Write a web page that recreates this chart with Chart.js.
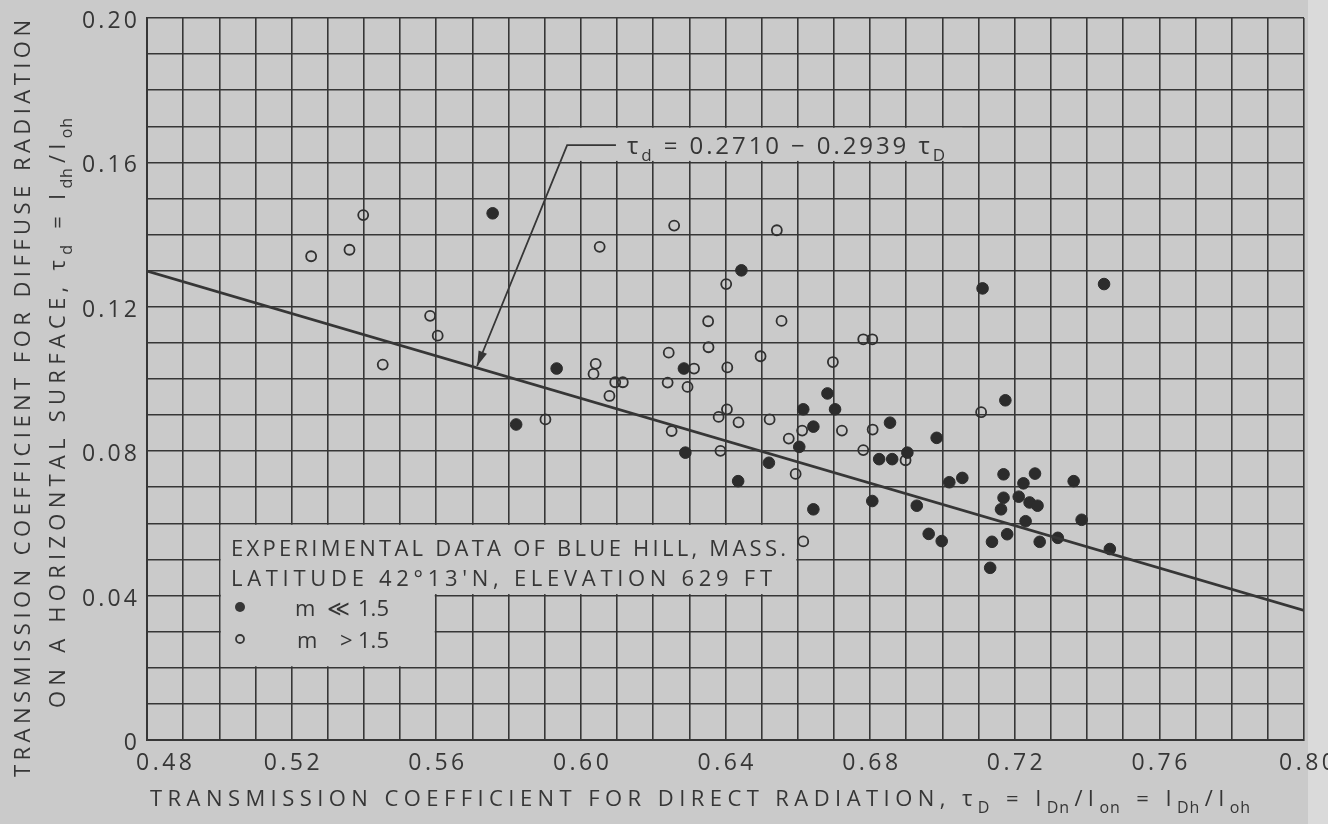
<!DOCTYPE html>
<html>
<head>
<meta charset="utf-8">
<script src="https://cdn.jsdelivr.net/npm/chart.js@4/dist/chart.umd.min.js"></script>
<style>
  html, body { margin: 0; padding: 0; background: #cacaca; }
  canvas { display: block; }
</style>
</head>
<body>
<canvas id="tau" width="1328" height="824"></canvas>
<script>
// data
// m <= 1.5 (filled dots)
var lowMassX = [0.5756, 0.5933, 0.5821, 0.6444, 0.6285, 0.6289, 0.6435, 0.6520, 0.6682, 0.6615,
                0.6703, 0.6643, 0.6604, 0.6643, 0.7111, 0.7447, 0.6855, 0.6984, 0.7174, 0.6825,
                0.6861, 0.6903, 0.7019, 0.7055, 0.7169, 0.7256, 0.7224, 0.7363, 0.7169, 0.7211,
                0.7241, 0.7263, 0.7162, 0.7230, 0.7385, 0.7319, 0.7463, 0.7269, 0.7179, 0.7137,
                0.7132, 0.6962, 0.6998, 0.6929, 0.6806];
var lowMassY = [0.1459, 0.1029, 0.0874, 0.1301, 0.1029, 0.0796, 0.0717, 0.0768, 0.0960, 0.0916,
                0.0916, 0.0868, 0.0812, 0.0639, 0.1251, 0.1263, 0.0879, 0.0837, 0.0941, 0.0778,
                0.0778, 0.0796, 0.0714, 0.0726, 0.0736, 0.0738, 0.0711, 0.0717, 0.0671, 0.0674,
                0.0658, 0.0649, 0.0639, 0.0606, 0.0610, 0.0560, 0.0529, 0.0549, 0.0570, 0.0549,
                0.0477, 0.0571, 0.0551, 0.0649, 0.0662];
// m > 1.5 (open circles)
var highMassX = [0.5254, 0.5360, 0.5398, 0.5583, 0.5604, 0.5452, 0.6258, 0.6052, 0.6542, 0.6402,
                 0.6352, 0.6555, 0.6353, 0.6243, 0.6497, 0.6313, 0.6405, 0.6697, 0.6041, 0.6035,
                 0.6095, 0.6116, 0.6240, 0.6295, 0.6079, 0.6404, 0.6381, 0.6436, 0.6522, 0.6612,
                 0.6722, 0.6575, 0.5902, 0.6251, 0.6386, 0.6594, 0.6615, 0.6781, 0.6806, 0.6807,
                 0.7107, 0.6781, 0.6898];
var highMassY = [0.1340, 0.1358, 0.1454, 0.1175, 0.1120, 0.1040, 0.1425, 0.1366, 0.1412, 0.1263,
                 0.1160, 0.1161, 0.1088, 0.1073, 0.1063, 0.1029, 0.1032, 0.1047, 0.1042, 0.1014,
                 0.0991, 0.0991, 0.0990, 0.0978, 0.0953, 0.0916, 0.0895, 0.0880, 0.0888, 0.0857,
                 0.0857, 0.0835, 0.0888, 0.0856, 0.0801, 0.0737, 0.0550, 0.1110, 0.1110, 0.0860,
                 0.0908, 0.0803, 0.0775];
// fitted line  tau_d = 0.2710 - 0.2939 tau_D, ends read at the frame
var fitX = [0.48, 0.80];
var fitY = [0.1299, 0.0359];

var xTickValues = [0.48, 0.52, 0.56, 0.60, 0.64, 0.68, 0.72, 0.76, 0.80];
var xTickLabels = ["0.48", "0.52", "0.56", "0.60", "0.64", "0.68", "0.72", "0.76", "0.80"];
var yTickValues = [0, 0.04, 0.08, 0.12, 0.16, 0.20];
var yTickLabels = ["0", "0.04", "0.08", "0.12", "0.16", "0.20"];

var INK = "#363636";
var PAPER = "#cacaca";
var FONT = '"Open Sans"';

function pts(xs, ys) {
    return xs.map(function (x, i) { return { x: x, y: ys[i] }; });
}

// draws text runs char by char, spread to a target width; runs = [[text, isSub], ...]
// subscript letters get only a small share of the extra spacing
function spaced(ctx, runs, x, y, width, size) {
    var chars = [];
    runs.forEach(function (r) {
        Array.from(r[0]).forEach(function (ch) { chars.push({ ch: ch, sub: r[1] }); });
    });
    var natural = 0, shares = 0;
    chars.forEach(function (c, i) {
        ctx.font = (c.sub ? Math.round(size * 0.72) : size) + "px " + FONT;
        c.w = ctx.measureText(c.ch).width;
        natural += c.w;
        var next = chars[i + 1];
        c.share = !next ? 0 : (c.sub && next.sub ? 0.15 : 1);
        shares += c.share;
    });
    var gap = width && shares ? (width - natural) / shares : 0;
    var cx = x;
    chars.forEach(function (c) {
        ctx.font = (c.sub ? Math.round(size * 0.72) : size) + "px " + FONT;
        ctx.fillText(c.ch, cx, y + (c.sub ? size * 0.3 : 0));
        cx += c.w + gap * c.share;
    });
}

var decor = {
    id: "decor",
    beforeDraw: function (chart) {
        var ctx = chart.ctx;
        ctx.save();
        ctx.fillStyle = PAPER;
        ctx.fillRect(0, 0, chart.width, chart.height);
        ctx.fillStyle = "#dadada";
        ctx.fillRect(1308, 0, 20, chart.height);
        ctx.restore();
    },
    beforeDatasetsDraw: function (chart) {
        var ctx = chart.ctx, sx = chart.scales.x, sy = chart.scales.y;
        var X = function (v) { return sx.getPixelForValue(v); };
        var Y = function (v) { return sy.getPixelForValue(v); };
        ctx.save();
        ctx.fillStyle = PAPER;
        // legend panel (L shaped, bounded by grid lines)
        ctx.fillRect(X(0.50) + 1.5, Y(0.06) + 1.5, X(0.66) - X(0.50) - 3, Y(0.04) - Y(0.06) - 3);
        ctx.fillRect(X(0.50) + 1.5, Y(0.06) + 1.5, X(0.56) - X(0.50) - 3, Y(0.02) - Y(0.06) - 3);
        // equation strip
        ctx.fillRect(X(0.594), Y(0.17) + 1.5, X(0.7055) - X(0.594), Y(0.16) - Y(0.17) - 3);
        ctx.restore();
    },
    afterDraw: function (chart) {
        var ctx = chart.ctx, sx = chart.scales.x, sy = chart.scales.y;
        var X = function (v) { return sx.getPixelForValue(v); };
        var Y = function (v) { return sy.getPixelForValue(v); };
        ctx.save();
        ctx.fillStyle = INK;
        ctx.strokeStyle = INK;

        // tick labels, widened like the hand lettering
        ctx.textAlign = "left";
        ctx.textBaseline = "alphabetic";
        yTickValues.forEach(function (v, i) {
            var lab = yTickLabels[i];
            var w = lab.length > 1 ? 55 : 0;
            ctx.font = "23px " + FONT;
            if (!w) w = ctx.measureText(lab).width;
            spaced(ctx, [[lab]], 137 - w, Y(v) + 10, lab.length > 1 ? w : 0, 23);
        });
        xTickValues.forEach(function (v, i) {
            var off = i === 0 ? 17 : (i === xTickValues.length - 1 ? 3 : 0);
            spaced(ctx, [[xTickLabels[i]]], X(v) + off - 28, 770, 56, 23);
        });

        // x axis title
        spaced(ctx, [["TRANSMISSION COEFFICIENT FOR DIRECT RADIATION, τ"], ["D", 1], [" = I"], ["Dn", 1],
                     ["/I"], ["on", 1], [" = I"], ["Dh", 1], ["/I"], ["oh", 1]], 150, 806, 1100, 22);

        // y axis title, two rotated lines
        ctx.save();
        ctx.translate(30, 777);
        ctx.rotate(-Math.PI / 2);
        spaced(ctx, [["TRANSMISSION COEFFICIENT FOR DIFFUSE RADIATION"]], 0, 0, 757, 22);
        ctx.restore();
        ctx.save();
        ctx.translate(65, 708);
        ctx.rotate(-Math.PI / 2);
        spaced(ctx, [["ON A HORIZONTAL SURFACE, τ"], ["d", 1], [" = I"], ["dh", 1], ["/I"], ["oh", 1]], 0, 0, 590, 22);
        ctx.restore();

        // legend panel text
        spaced(ctx, [["EXPERIMENTAL DATA OF BLUE HILL, MASS."]], 231, 556, 555, 22);
        spaced(ctx, [["LATITUDE 42°13'N, ELEVATION 629 FT"]], 231, 586, 541, 22);
        ctx.font = "22px " + FONT;
        ctx.beginPath();
        ctx.arc(240, 607, 5, 0, Math.PI * 2);
        ctx.fill();
        ctx.fillText("m", 295, 616);
        ctx.fillText("≪", 327, 616);
        spaced(ctx, [["1.5"]], 358, 616, 31, 22);
        ctx.lineWidth = 1.8;
        ctx.beginPath();
        ctx.arc(240, 639, 4, 0, Math.PI * 2);
        ctx.stroke();
        ctx.font = "22px " + FONT;
        ctx.fillText("m", 297, 648);
        ctx.fillText(">", 340, 648);
        spaced(ctx, [["1.5"]], 358, 648, 31, 22);

        // equation with leader and arrow
        spaced(ctx, [["τ"], ["d", 1], [" = 0.2710 − 0.2939 τ"], ["D", 1]], 627, 154, 318, 24);
        var cx = X(0.5962), cy = Y(0.1648);
        var tx = X(0.5713), ty = Y(0.1036);
        ctx.lineWidth = 1.8;
        ctx.beginPath();
        ctx.moveTo(X(0.6097), cy);
        ctx.lineTo(cx, cy);
        ctx.lineTo(tx, ty);
        ctx.stroke();
        var ang = Math.atan2(ty - cy, tx - cx);
        ctx.beginPath();
        ctx.moveTo(tx, ty);
        ctx.lineTo(tx - 15 * Math.cos(ang) + 4.5 * Math.sin(ang), ty - 15 * Math.sin(ang) - 4.5 * Math.cos(ang));
        ctx.lineTo(tx - 15 * Math.cos(ang) - 4.5 * Math.sin(ang), ty - 15 * Math.sin(ang) + 4.5 * Math.cos(ang));
        ctx.closePath();
        ctx.fill();
        ctx.restore();
    }
};

var ctx = document.getElementById("tau");
new Chart(ctx, {
    type: "scatter",
    data: {
        datasets: [
            {
                label: "fit",
                type: "line",
                data: pts(fitX, fitY),
                borderColor: INK,
                borderWidth: 2.6,
                pointRadius: 0,
                fill: false,
            },
            {
                label: "m \u2264 1.5",
                data: pts(lowMassX, lowMassY),
                backgroundColor: "#2c2c2c",
                borderColor: "#2c2c2c",
                borderWidth: 1,
                pointRadius: 5.8,
            },
            {
                label: "m > 1.5",
                data: pts(highMassX, highMassY),
                backgroundColor: "rgba(0,0,0,0)",
                borderColor: "#303030",
                borderWidth: 1.8,
                pointRadius: 5,
            },
        ],
    },
    options: {
        responsive: false,
        animation: false,
        events: [],
        layout: {
            padding: { left: 147, right: 24, top: 18, bottom: 84 },
        },
        scales: {
            x: {
                type: "linear",
                min: 0.48,
                max: 0.80,
                ticks: { display: false, stepSize: 0.01 },
                grid: { color: INK, lineWidth: 1.6, drawTicks: false },
                border: { display: true, color: INK, width: 2 },
            },
            y: {
                type: "linear",
                min: 0,
                max: 0.20,
                ticks: { display: false, stepSize: 0.01 },
                grid: { color: INK, lineWidth: 1.6, drawTicks: false },
                border: { display: true, color: INK, width: 2 },
            },
        },
        plugins: {
            legend: { display: false },
            tooltip: { enabled: false },
        },
    },
    plugins: [decor],
});
</script>
</body>
</html>
